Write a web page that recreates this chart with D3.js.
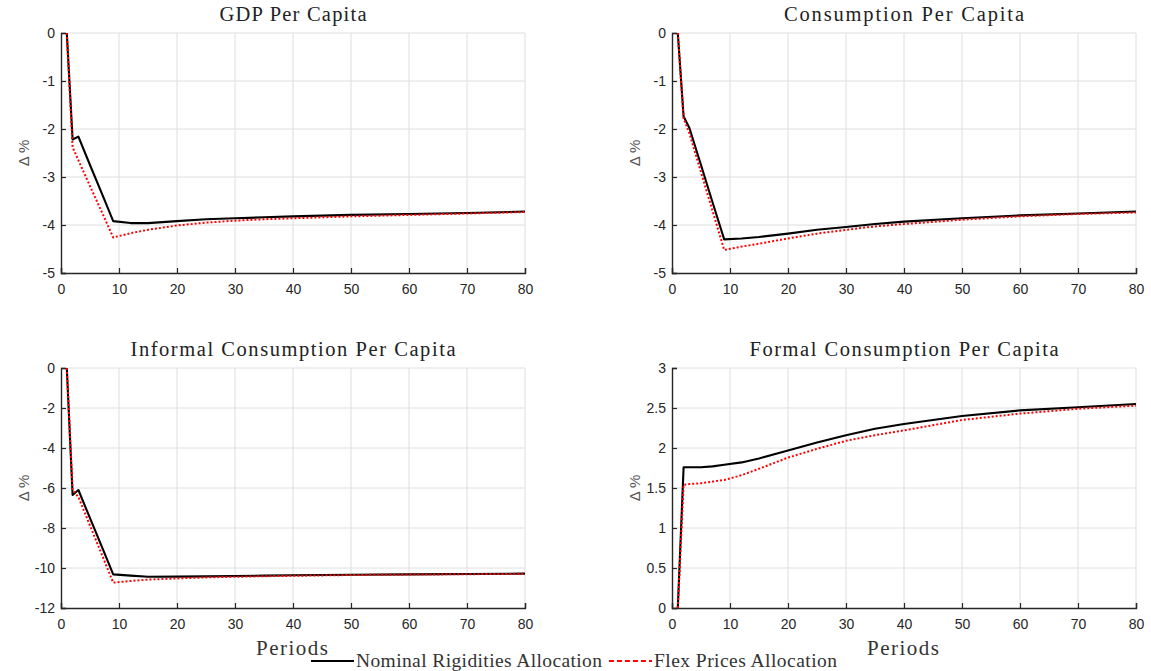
<!DOCTYPE html>
<html>
<head>
<meta charset="utf-8">
<script src="https://cdn.jsdelivr.net/npm/d3@7/dist/d3.min.js"></script>
<style>
  html, body { margin: 0; padding: 0; background: #fff; }
  svg { display: block; }
  .tick text { font-family: "Liberation Sans", Arial, sans-serif; font-size: 14px; fill: #262626; }
</style>
</head>
<body>
<div id="chart"></div>
<script>
// ---- data ----
const periods = [1, 2, 3, 5, 7, 9, 12, 15, 20, 25, 30, 35, 40, 50, 60, 70, 80];

const gdpNominal = [0, -2.22, -2.16, -2.75, -3.33, -3.92, -3.96, -3.96, -3.92, -3.88, -3.86, -3.84, -3.82, -3.79, -3.77, -3.75, -3.72];
const gdpFlex    = [0, -2.38, -2.65, -3.19, -3.72, -4.26, -4.17, -4.10, -4.01, -3.95, -3.91, -3.88, -3.86, -3.82, -3.79, -3.76, -3.73];

const consNominal = [0, -1.74, -1.98, -2.75, -3.53, -4.30, -4.28, -4.25, -4.18, -4.10, -4.04, -3.98, -3.93, -3.86, -3.80, -3.76, -3.72];
const consFlex    = [0, -1.78, -2.09, -2.90, -3.71, -4.52, -4.45, -4.39, -4.28, -4.18, -4.10, -4.03, -3.98, -3.89, -3.82, -3.77, -3.74];

const informalNominal = [0, -6.35, -6.10, -7.51, -8.91, -10.32, -10.38, -10.44, -10.43, -10.42, -10.40, -10.38, -10.36, -10.34, -10.32, -10.30, -10.28];
const informalFlex    = [0, -6.10, -6.45, -7.88, -9.30, -10.73, -10.65, -10.58, -10.52, -10.47, -10.44, -10.41, -10.39, -10.35, -10.33, -10.31, -10.29];

const formalNominal = [0, 1.76, 1.76, 1.76, 1.77, 1.79, 1.82, 1.87, 1.97, 2.07, 2.16, 2.24, 2.30, 2.40, 2.47, 2.51, 2.55];
const formalFlex    = [0, 1.54, 1.55, 1.56, 1.58, 1.60, 1.66, 1.74, 1.88, 1.99, 2.09, 2.16, 2.22, 2.35, 2.43, 2.49, 2.53];

const titles = ["GDP Per Capita", "Consumption Per Capita", "Informal Consumption Per Capita", "Formal Consumption Per Capita"];
const yDomains = [[-5, 0], [-5, 0], [-12, 0], [0, 3]];
const yTickSteps = [1, 1, 2, 0.5];
const xTicks = [0, 10, 20, 30, 40, 50, 60, 70, 80];
const seriesNames = ["Nominal Rigidities Allocation", "Flex Prices Allocation"];

const panelData = [
  [gdpNominal, gdpFlex],
  [consNominal, consFlex],
  [informalNominal, informalFlex],
  [formalNominal, formalFlex],
];

// ---- layout ----
const W = 1151, H = 671;
const boxes = [
  { x: 61,  y: 33,  w: 464, h: 240 },
  { x: 672, y: 33,  w: 464, h: 240 },
  { x: 61,  y: 368, w: 464, h: 240 },
  { x: 672, y: 368, w: 464, h: 240 },
];
// rendered text widths in the reference (computer modern is wider than times)
const titleWidths = [147, 240, 325, 309];
const legendWidths = [246, 183];
const serif = '"Liberation Serif", "Times New Roman", serif';
const styles = [
  { stroke: "#000", width: 2.1, dash: null },
  { stroke: "#ff0000", width: 2, dash: "2,2" },
];

const svg = d3.select("#chart").append("svg")
  .attr("width", W).attr("height", H);

boxes.forEach((b, i) => {
  const g = svg.append("g").attr("transform", `translate(${b.x},${b.y})`);
  const x = d3.scaleLinear().domain([0, 80]).range([0, b.w]);
  const y = d3.scaleLinear().domain(yDomains[i]).range([b.h, 0]);
  const yTicks = d3.range(yDomains[i][0], yDomains[i][1] + 1e-9, yTickSteps[i]);

  // grid
  g.append("g").selectAll("line").data(xTicks.slice(1)).join("line")
    .attr("x1", d => x(d)).attr("x2", d => x(d))
    .attr("y1", 0).attr("y2", b.h)
    .attr("stroke", "#dedede").attr("stroke-width", 1);
  g.append("g").selectAll("line").data(yTicks.slice(1)).join("line")
    .attr("x1", 0).attr("x2", b.w)
    .attr("y1", d => y(d)).attr("y2", d => y(d))
    .attr("stroke", "#dedede").attr("stroke-width", 1);

  // axes
  const xa = g.append("g").attr("transform", `translate(0,${b.h})`)
    .call(d3.axisBottom(x).tickValues(xTicks).tickSize(-5).tickPadding(11).tickFormat(d3.format("d")));
  const ya = g.append("g")
    .call(d3.axisLeft(y).tickValues(yTicks).tickSize(-5).tickPadding(6).tickFormat(d => d3.format("~g")(d).replace("−", "-")));
  [xa, ya].forEach(a => {
    a.select(".domain").attr("stroke", "#262626").attr("stroke-width", 1.4);
    a.selectAll(".tick line").attr("stroke", "#262626").attr("stroke-width", 1.2);
  });

  // series
  const line = d3.line().x((d, k) => x(periods[k])).y(d => y(d));
  panelData[i].forEach((vals, s) => {
    g.append("path").datum(vals)
      .attr("d", line)
      .attr("fill", "none")
      .attr("stroke", styles[s].stroke)
      .attr("stroke-width", styles[s].width)
      .attr("stroke-dasharray", styles[s].dash)
      .attr("stroke-linejoin", "round");
  });

  // title
  svg.append("text")
    .attr("x", b.x + b.w / 2).attr("y", b.y - 12)
    .attr("text-anchor", "middle")
    .attr("font-family", serif).attr("font-size", 20.5)
    .attr("textLength", titleWidths[i]).attr("lengthAdjust", "spacing")
    .attr("fill", "#222")
    .text(titles[i]);

  // y label
  svg.append("text")
    .attr("transform", `translate(${b.x - 32},${b.y + b.h / 2}) rotate(-90)`)
    .attr("text-anchor", "middle")
    .attr("font-family", '"Liberation Sans", Arial, sans-serif').attr("font-size", 15)
    .attr("fill", "#555")
    .text("Δ %");

  // x label on bottom row only
  if (i >= 2) {
    svg.append("text")
      .attr("x", b.x + b.w / 2 - 1).attr("y", 655)
      .attr("text-anchor", "middle")
      .attr("font-family", serif).attr("font-size", 21)
      .attr("textLength", 72).attr("lengthAdjust", "spacing")
      .attr("fill", "#333")
      .text("Periods");
  }
});

// legend
const legend = svg.append("g");
const legendX = [311, 609];
const legendLineLen = 43;
seriesNames.forEach((name, s) => {
  legend.append("line")
    .attr("x1", legendX[s]).attr("x2", legendX[s] + legendLineLen)
    .attr("y1", 661).attr("y2", 661)
    .attr("stroke", styles[s].stroke)
    .attr("stroke-width", 2.2)
    .attr("stroke-dasharray", s === 1 ? "5,3" : null);
  legend.append("text")
    .attr("x", legendX[s] + legendLineLen + 2).attr("y", 667)
    .attr("font-family", serif).attr("font-size", 19.5)
    .attr("textLength", legendWidths[s]).attr("lengthAdjust", "spacing")
    .attr("fill", "#333")
    .text(name);
});
</script>
</body>
</html>
